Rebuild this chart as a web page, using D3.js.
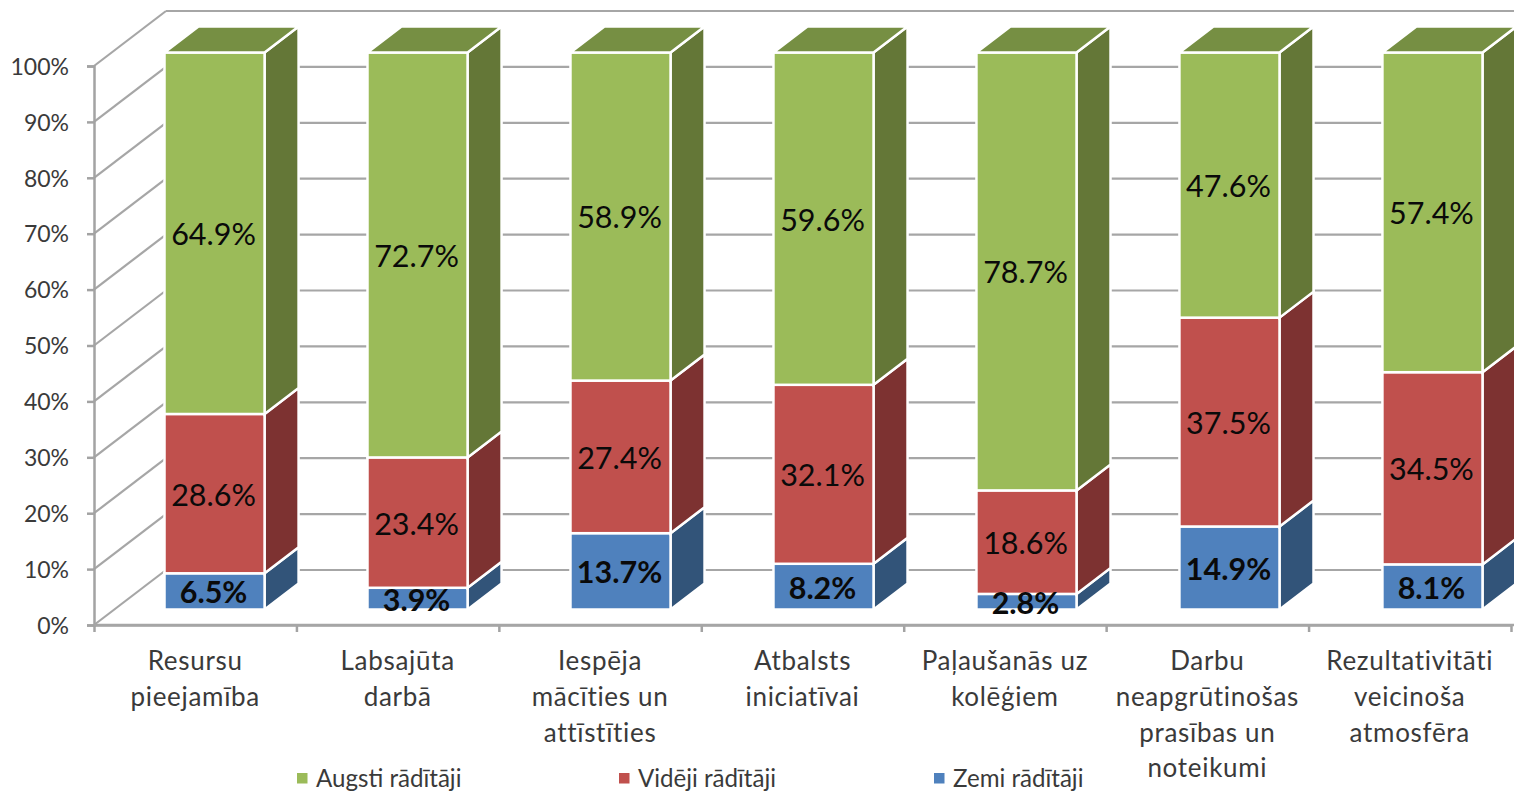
<!DOCTYPE html>
<html>
<head>
<meta charset="utf-8">
<script src="https://cdn.jsdelivr.net/npm/d3@7"></script>
<style>
  html, body { margin: 0; padding: 0; background: #fff; overflow: hidden; }
  text { font-family: Lato, "Open Sans", sans-serif; }
  .axis path, .axis line { stroke: #a3a3a3; stroke-width: 2.5px; }
  .axis text { font-size: 23px; fill: #3a3a3a; font-family: Lato, sans-serif; }
  .grid { stroke: #a6a6a6; stroke-width: 2.2px; fill: none; }
</style>
</head>
<body>
<div class="chart"></div>
<script>
const categories = [
  'Resursu pieejamība',
  'Labsajūta darbā',
  'Iespēja mācīties un attīstīties',
  'Atbalsts iniciatīvai',
  'Paļaušanās uz kolēģiem',
  'Darbu neapgrūtinošas prasības un noteikumi',
  'Rezultativitāti veicinoša atmosfēra'
];
const categoryLines = [
  ['Resursu', 'pieejamība'],
  ['Labsajūta', 'darbā'],
  ['Iespēja', 'mācīties un', 'attīstīties'],
  ['Atbalsts', 'iniciatīvai'],
  ['Paļaušanās uz', 'kolēģiem'],
  ['Darbu', 'neapgrūtinošas', 'prasības un', 'noteikumi'],
  ['Rezultativitāti', 'veicinoša', 'atmosfēra']
];
const seriesNames = ['Zemi rādītāji', 'Vidēji rādītāji', 'Augsti rādītāji'];
const zemi = [6.5, 3.9, 13.7, 8.2, 2.8, 14.9, 8.1];
const videji = [28.6, 23.4, 27.4, 32.1, 18.6, 37.5, 34.5];
const augsti = [64.9, 72.7, 58.9, 59.6, 78.7, 47.6, 57.4];
const yTicks = [0, 10, 20, 30, 40, 50, 60, 70, 80, 90, 100];

const front = ['#4f81bd', '#c0504d', '#9bbb59'];
const side = ['#325479', '#7d3231', '#647737'];
const topFace = '#768f43';

const width = 1514;
const height = 792;

const svg = d3.select('.chart').append('svg')
  .attr('width', width)
  .attr('height', height)
  .style('display', 'block');

//scales
const xAxisScale = d3.scaleBand().domain(categories).range([94, 1511]);
const xBar = d3.scaleBand().domain(categories).range([164.5, 1482.5]).paddingInner(0.507);
const yAxisScale = d3.scaleLinear().domain([0, 100]).range([625, 66]);
const yWall = d3.scaleLinear().domain([0, 100]).range([570, 11]);
const yBar = d3.scaleLinear().domain([0, 1]).range([609.5, 52.5]);

//bar depth
const depthX = 34;
const depthY = 26;

//left wall and back wall gridlines
const grid = svg.append('g');
grid.selectAll('.wall')
  .data(yTicks)
  .enter().append('line')
  .attr('class', 'grid')
  .attr('x1', 94)
  .attr('y1', d => yAxisScale(d))
  .attr('x2', 166)
  .attr('y2', d => yWall(d));
grid.selectAll('.back')
  .data(yTicks)
  .enter().append('line')
  .attr('class', 'grid')
  .attr('x1', 166)
  .attr('y1', d => yWall(d))
  .attr('x2', width)
  .attr('y2', d => yWall(d));

//axes
const yAxis = svg.append('g')
  .attr('class', 'axis')
  .attr('transform', 'translate(94,0)')
  .call(d3.axisLeft(yAxisScale).tickValues(yTicks).tickFormat(d => d + '%').tickSize(7).tickPadding(18));
yAxis.selectAll('.tick text').attr('dy', '0.36em');

const xAxisTicks = d3.range(categories.length + 1).map(i => 94 + i * xAxisScale.step());
const xLinear = d3.scaleLinear().domain([94, 1511]).range([94, 1511]);
svg.append('g')
  .attr('class', 'axis')
  .attr('transform', 'translate(0,625)')
  .call(d3.axisBottom(xLinear).tickValues(xAxisTicks).tickFormat('').tickSize(7).tickSizeOuter(0));
svg.append('line')
  .attr('class', 'grid')
  .style('stroke-width', '2.5px')
  .attr('x1', 94).attr('y1', 625).attr('x2', width).attr('y2', 625);

//stack
const rows = categories.map((c, i) => ({ category: c, zemi: zemi[i], videji: videji[i], augsti: augsti[i] }));
const stacked = d3.stack()
  .keys(['zemi', 'videji', 'augsti'])
  .offset(d3.stackOffsetExpand)(rows);

const layers = svg.append('g').selectAll('g')
  .data(stacked)
  .enter().append('g');

const faceLine = points => d3.line()(points) + 'Z';

//side faces
layers.selectAll('.side')
  .data((d, i) => d.map(s => ({ s, i })))
  .enter().append('path')
  .attr('d', ({ s }) => {
    const r = xBar(s.data.category) + xBar.bandwidth();
    return faceLine([
      [r, yBar(s[0])],
      [r + depthX, yBar(s[0]) - depthY],
      [r + depthX, yBar(s[1]) - depthY],
      [r, yBar(s[1])]
    ]);
  })
  .style('fill', d => side[d.i])
  .style('stroke', '#fff')
  .style('stroke-width', '2.5px');

//top faces
svg.append('g').selectAll('path')
  .data(stacked[2])
  .enter().append('path')
  .attr('d', s => {
    const l = xBar(s.data.category);
    const r = l + xBar.bandwidth();
    const t = yBar(s[1]);
    return faceLine([[l, t], [l + depthX, t - depthY], [r + depthX, t - depthY], [r, t]]);
  })
  .style('fill', topFace)
  .style('stroke', '#fff')
  .style('stroke-width', '2.5px');

//front faces
layers.selectAll('.front')
  .data((d, i) => d.map(s => ({ s, i })))
  .enter().append('rect')
  .attr('x', ({ s }) => xBar(s.data.category))
  .attr('y', ({ s }) => yBar(s[1]))
  .attr('width', xBar.bandwidth())
  .attr('height', ({ s }) => yBar(s[0]) - yBar(s[1]))
  .style('fill', d => front[d.i])
  .style('stroke', '#fff')
  .style('stroke-width', '2.5px');

//value labels
const keys = ['zemi', 'videji', 'augsti'];
svg.append('g').selectAll('g')
  .data(stacked)
  .enter().append('g')
  .selectAll('text')
  .data((d, i) => d.map(s => ({ s, i })))
  .enter().append('text')
  .attr('x', ({ s }) => xBar(s.data.category) + xBar.bandwidth() / 2 - 1)
  .attr('y', ({ s }) => (yBar(s[0]) + yBar(s[1])) / 2)
  .attr('dy', '0.39em')
  .attr('text-anchor', 'middle')
  .style('font-size', '30.5px')
  .style('font-weight', d => d.i === 0 ? '700' : '400')
  .style('fill', '#0a0a0a')
  .text(({ s, i }) => s.data[keys[i]].toFixed(1) + '%');

//category labels
const labelGroups = svg.append('g').selectAll('text')
  .data(categories)
  .enter().append('text')
  .attr('text-anchor', 'middle')
  .style('font-size', '26px')
  .style('letter-spacing', '0.7px')
  .style('fill', '#3a3a3a');
labelGroups.selectAll('tspan')
  .data((d, i) => categoryLines[i].map(line => ({ line, c: d })))
  .enter().append('tspan')
  .attr('x', d => xAxisScale(d.c) + xAxisScale.bandwidth() / 2)
  .attr('y', (d, i) => 670 + i * 35.8)
  .text(d => d.line);

//legend
const legendOrder = [2, 1, 0];
const legendX = d3.scaleOrdinal().domain(legendOrder).range([297, 619, 934]);
const legend = svg.append('g').selectAll('g')
  .data(legendOrder)
  .enter().append('g')
  .attr('transform', d => `translate(${legendX(d)},773)`);
legend.append('rect')
  .attr('width', 10.5)
  .attr('height', 10.5)
  .style('fill', d => front[d]);
legend.append('text')
  .attr('x', 19)
  .attr('y', 14)
  .style('font-size', '24.1px')
  .style('fill', '#3a3a3a')
  .text(d => seriesNames[d]);
</script>
</body>
</html>
